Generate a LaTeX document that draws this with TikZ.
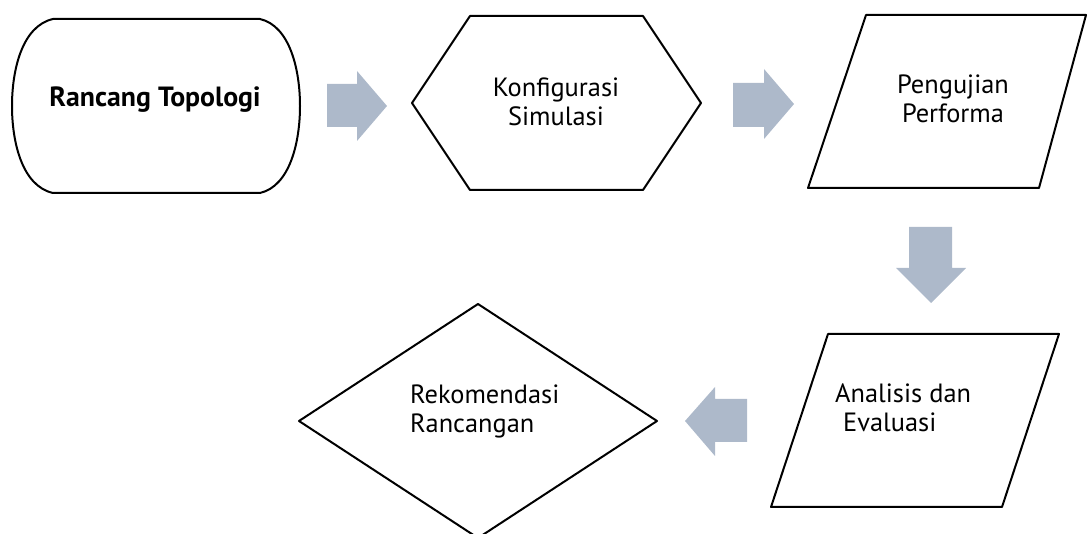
\documentclass[tikz,border=0pt]{standalone}
\usepackage{fontspec}
\setmainfont{PT Sans}
\definecolor{arrowgray}{HTML}{ADB9CA}
\begin{document}
\begin{tikzpicture}[x=1pt,y=-1pt,
  outline/.style={draw=black,line width=2pt,line join=round},
  blockarrow/.style={fill=arrowgray,draw=none},
  label/.style={font=\fontsize{26.4}{29}\selectfont,inner sep=0pt,align=center}]
\useasboundingbox (0,0) rectangle (1088,534);
% shapes
\draw[outline] (53,19) -- (260,19)
  .. controls (290,26) and (300,70) .. (300,106)
  .. controls (300,142) and (290,186) .. (260,193)
  -- (53,193)
  .. controls (22,186) and (12,142) .. (12,106)
  .. controls (12,70) and (22,26) .. (53,19) -- cycle;
\draw[outline] (412,103) -- (470,16) -- (643,16) -- (701,103) -- (643,190) -- (470,190) -- cycle;
\draw[outline] (866,15) -- (1086,15) -- (1039,188) -- (808,188) -- cycle;
\draw[outline] (828,334) -- (1059,334) -- (1002,507) -- (771,507) -- cycle;
\draw[outline] (478,304) -- (657,421) -- (478,538) -- (299,421) -- cycle;
% text
\node[label,font=\fontsize{27.8}{29}\selectfont\bfseries,anchor=base] (rt) at (155,107) {Rancang Topologi};
\node[label,anchor=base] (ks) at (556,126) {Konfigurasi\\Simulasi};
\node[label,anchor=base] (pp) at (953,123) {Pengujian\\Performa};
\node[label,anchor=base west,align=left] (ae) at (835,432) {Analisis dan\\\hspace{8pt}Evaluasi};
\node[label,anchor=base west,align=left] (rr) at (410,433) {Rekomendasi\\Rancangan};
% block arrows
\fill[blockarrow] (327,84) -- (357,84) -- (357,71) -- (387,106) -- (357,141) -- (357,127) -- (327,127) -- cycle;
\fill[blockarrow] (733,83) -- (764,83) -- (764,69) -- (794,104) -- (764,139) -- (764,127) -- (733,127) -- cycle;
\fill[blockarrow] (909,227) -- (952,227) -- (952,268) -- (966,268) -- (931,303) -- (896,268) -- (909,268) -- cycle;
\fill[blockarrow] (747,399) -- (715,399) -- (715,387) -- (685,421) -- (715,456) -- (715,442) -- (747,442) -- cycle;
\end{tikzpicture}
\end{document}
